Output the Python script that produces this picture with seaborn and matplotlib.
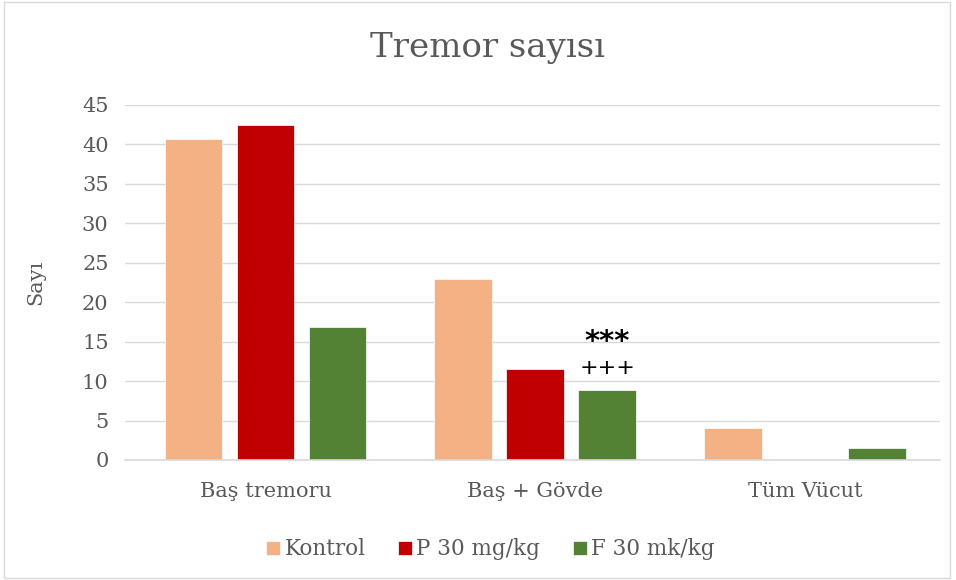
import pandas as pd
import seaborn as sns
from matplotlib import pyplot as plt

# data
kategoriler = ['Baş tremoru', 'Baş + Gövde', 'Tüm Vücut']
gruplar = ['Kontrol', 'P 30 mg/kg', 'F 30 mk/kg']
kontrol = [40.7, 23.0, 4.0]
p30 = [42.4, 11.5, 0.0]
f30 = [16.9, 8.9, 1.5]
renkler = ['#F4B183', '#C00000', '#548235']

df = pd.DataFrame({
    'kategori': kategoriler * 3,
    'grup': [gruplar[0]] * 3 + [gruplar[1]] * 3 + [gruplar[2]] * 3,
    'deger': kontrol + p30 + f30,
})

sns.set_theme(style='white')
plt.rcParams['font.family'] = ['DejaVu Serif']
gri = '#595959'

fig = plt.figure(figsize=(9.56, 5.8), dpi=100)
ax = fig.add_axes([0.131, 0.207, 0.852, 0.612])

sns.barplot(data=df, x='kategori', y='deger', hue='grup', order=kategoriler,
            hue_order=gruplar, palette=renkler, width=0.8, gap=0.2,
            saturation=1, edgecolor='white', linewidth=0.5, ax=ax)

ax.set_ylim(0, 45)
ax.set_xlim(-0.52, 2.5)
ax.set_yticks(range(0, 50, 5))
ax.yaxis.grid(True, color='#d9d9d9', linewidth=1)
ax.set_axisbelow(True)
for s in ['top', 'right', 'left']:
    ax.spines[s].set_visible(False)
ax.spines['bottom'].set_color('#d9d9d9')
ax.spines['bottom'].set_linewidth(1.2)
ax.tick_params(axis='both', colors=gri, labelsize=15, length=0)
ax.tick_params(axis='y', pad=12)
ax.tick_params(axis='x', pad=16)
ax.set_xlabel('')
ax.set_ylabel('Sayı', color=gri, fontsize=15)
ax.yaxis.set_label_coords(-0.098, 0.5)

# significance marks above F bar in second group
fbar = ax.containers[2][1]
xc = fbar.get_x() + fbar.get_width() / 2
ax.text(xc, 15.0, '***', ha='center', va='center', fontsize=21,
        family='DejaVu Sans', fontweight='bold', color='black')
ax.text(xc, 11.6, '+++', ha='center', va='center', fontsize=16,
        family='DejaVu Sans', color='black')

fig.suptitle('Tremor sayısı', x=0.51, y=0.945, fontsize=24.5, color=gri)

ax.legend(loc='upper center', bbox_to_anchor=(0.513, 0.105), bbox_transform=fig.transFigure,
          ncol=3, frameon=False, fontsize=15.5, labelcolor=gri, handlelength=0.65,
          handleheight=0.65, handletextpad=0.2, columnspacing=1.5)

fig.patches.append(plt.Rectangle((0.004, 0.004), 0.99, 0.992, transform=fig.transFigure,
                                 fill=False, edgecolor='#d9d9d9', linewidth=1))

fig.savefig('out.png', dpi=100)
